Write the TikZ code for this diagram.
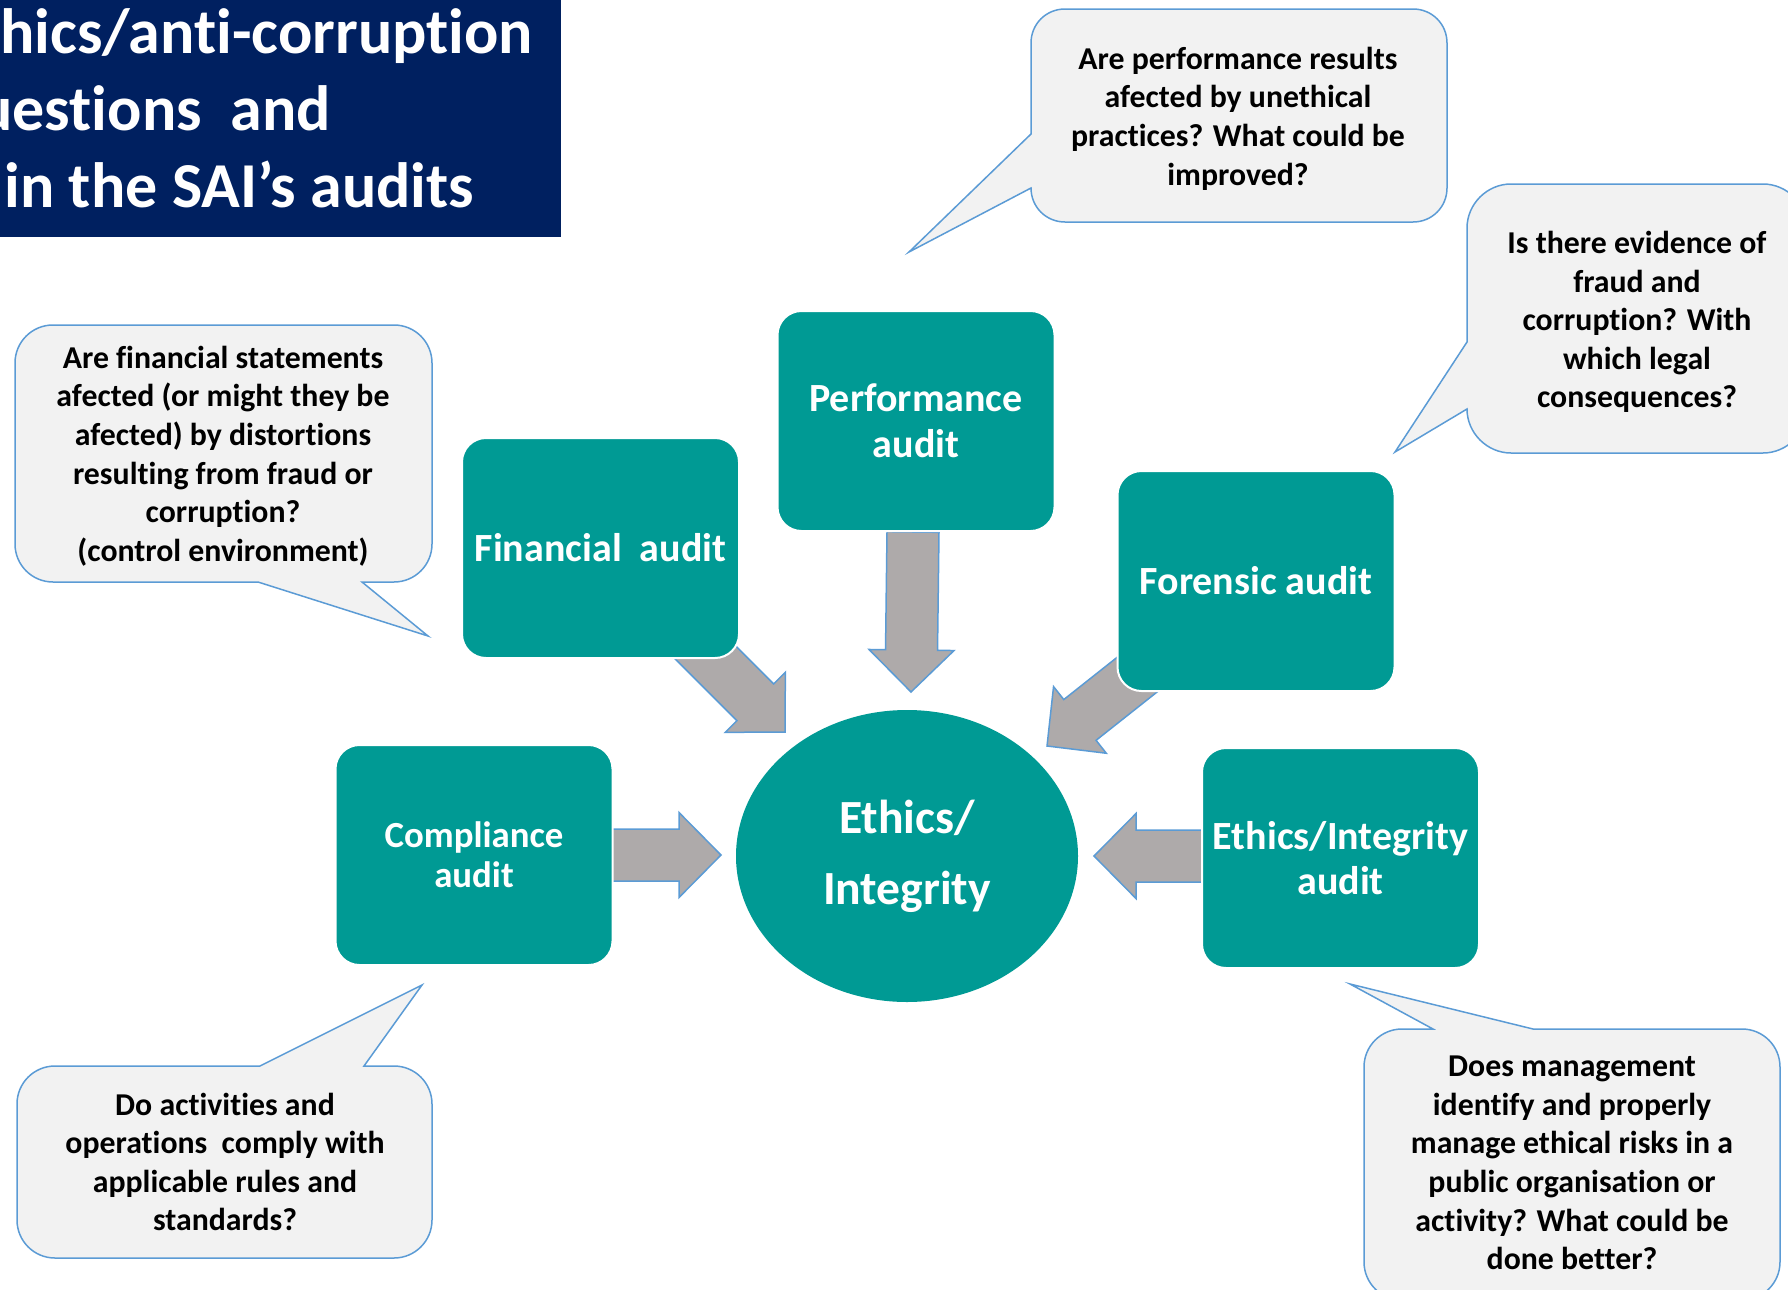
\documentclass[tikz,border=0pt]{standalone}
\usepackage{fontspec}
\setmainfont{Carlito}[Ligatures=NoCommon]
\usetikzlibrary{calc,shapes.geometric}

\definecolor{auditteal}{RGB}{0,154,148}
\definecolor{titlenavy}{RGB}{0,32,96}
\definecolor{bubblefill}{RGB}{242,242,242}
\definecolor{bubbleline}{RGB}{91,155,213}
\definecolor{arrowgray}{RGB}{174,170,170}

% Block arrow from a tail coordinate (#1) to a tip coordinate (#2)
\newcommand\blockarrow[2]{%
  \coordinate (#1-h) at ($(#2)!21pt!(#1)$);
  \draw[blockarrow]
    (#2)
    -- ($(#1-h)!21.25pt!90:(#2)$)
    -- ($(#1-h)!13pt!90:(#2)$)
    -- ($(#1)!13pt!90:(#2)$)
    -- ($(#1)!13pt!-90:(#2)$)
    -- ($(#1-h)!13pt!-90:(#2)$)
    -- ($(#1-h)!21.25pt!-90:(#2)$)
    -- cycle;
}

\begin{document}
\begin{tikzpicture}[x=0.5pt,y=-0.5pt,
  audit/.style={rectangle, rounded corners=12pt, fill=auditteal, draw=white,
    line width=1pt, minimum width=138.5pt, minimum height=110pt, inner sep=2pt,
    align=center, text=white, font=\fontsize{20}{22.8}\selectfont\bfseries},
  bubble/.style={fill=bubblefill, draw=bubbleline, line width=0.75pt, line join=miter},
  bubbletext/.style={align=center, inner sep=0pt, text=black,
    font=\fontsize{15.9}{19.3}\selectfont\bfseries},
  blockarrow/.style={fill=arrowgray, draw=bubbleline, line width=0.75pt, line join=miter},
  titleline/.style={anchor=base west, inner sep=0pt, text=white,
    font=\fontsize{32}{38}\selectfont\bfseries}]

\useasboundingbox (0,0) rectangle (1788,1290);
\clip (0,0) rectangle (1788,1290);

% title banner
\fill[titlenavy] (0,0) rectangle (561,237);
\node[titleline] (title1) at (0,54) {hics/anti-corruption};
\node[titleline] (title2) at (-22,130) {uestions\ \ and};
\node[titleline] (title3) at (4,207) {in the SAI’s audits};

% question bubbles
\draw[bubble] (1065,9) -- (1413,9) .. controls (1432,9) and (1447,24) .. (1447,43)
  -- (1447,188) .. controls (1447,207) and (1432,222) .. (1413,222)
  -- (1065,222) .. controls (1046,222) and (1031,207) .. (1031,188)
  -- (909,252) -- (1031,134)
  -- (1031,43) .. controls (1031,24) and (1046,9) .. (1065,9) -- cycle;
\node[bubbletext] (q-perf) at (1238,118.5)
  {Are performance results\\afected by unethical\\practices? What could be\\improved?};

\draw[bubble] (1511,184) -- (1763,184) .. controls (1787,184) and (1807,204) .. (1807,228)
  -- (1807,409) .. controls (1807,433) and (1787,453) .. (1763,453)
  -- (1511,453) .. controls (1487,453) and (1467,433) .. (1467,409)
  -- (1395,452) -- (1467,342)
  -- (1467,228) .. controls (1467,204) and (1487,184) .. (1511,184) -- cycle;
\node[bubbletext] (q-forensic) at (1637,322)
  {Is there evidence of\\fraud and\\corruption? With\\which legal\\consequences?};

\draw[bubble] (53,325) -- (394,325) .. controls (415,325) and (432,342) .. (432,363)
  -- (432,544) .. controls (432,565) and (415,582) .. (394,582)
  -- (362,582) -- (428,636) -- (258,582)
  -- (53,582) .. controls (32,582) and (15,565) .. (15,544)
  -- (15,363) .. controls (15,342) and (32,325) .. (53,325) -- cycle;
\node[bubbletext] (q-financial) at (223,456)
  {Are financial statements\\afected (or might they be\\afected) by distortions\\resulting from fraud or\\corruption?\\(control environment)};

\draw[bubble] (55,1066) -- (260,1066) -- (422,985) -- (364,1066)
  -- (394,1066) .. controls (415,1066) and (432,1083) .. (432,1104)
  -- (432,1220) .. controls (432,1241) and (415,1258) .. (394,1258)
  -- (55,1258) .. controls (34,1258) and (17,1241) .. (17,1220)
  -- (17,1104) .. controls (17,1083) and (34,1066) .. (55,1066) -- cycle;
\node[bubbletext] (q-compliance) at (225,1162)
  {Do activities and\\operations\ \ comply with\\applicable rules and\\standards?};

\draw[bubble] (1402,1029) -- (1433,1029) -- (1350,984) -- (1533,1029)
  -- (1742,1029) .. controls (1763,1029) and (1780,1046) .. (1780,1067)
  -- (1780,1262) .. controls (1780,1283) and (1763,1300) .. (1742,1300)
  -- (1402,1300) .. controls (1381,1300) and (1364,1283) .. (1364,1262)
  -- (1364,1067) .. controls (1364,1046) and (1381,1029) .. (1402,1029) -- cycle;
\node[bubbletext] (q-ethics) at (1572,1163)
  {Does management\\identify and properly\\manage ethical risks in a\\public organisation or\\activity? What could be\\done better?};

% arrow ends
\coordinate (perf-tail) at (913,532);
\coordinate (perf-tip) at (911,692);
\coordinate (fin-tail) at (680,627);
\coordinate (fin-tip) at (785,732);
\coordinate (for-tail) at (1196,628);
\coordinate (for-tip) at (1047,746);
\coordinate (comp-tail) at (605,855);
\coordinate (comp-tip) at (721,855);
\coordinate (eth-tail) at (1210,856);
\coordinate (eth-tip) at (1094,856);

\blockarrow{perf-tail}{perf-tip}
\blockarrow{fin-tail}{fin-tip}
\blockarrow{for-tail}{for-tip}
\blockarrow{comp-tail}{comp-tip}
\blockarrow{eth-tail}{eth-tip}

% audit boxes
\node[audit] (performance) at (916,421) {Performance\\audit};
\node[audit] (financial) at (600.5,548) {Financial\ \ audit};
\node[audit] (forensic) at (1256,581) {Forensic audit};
\node[audit, font=\fontsize{18.4}{20}\selectfont\bfseries] (compliance) at (474,855) {Compliance\\audit};
\node[audit] (ethicsaudit) at (1340.5,858) {Ethics/Integrity\\audit};

% central ellipse
\node[ellipse, fill=auditteal, minimum width=171pt, minimum height=146pt, inner sep=0pt,
  align=center, text=white, font=\fontsize{23.8}{35.5}\selectfont\bfseries]
  (core) at (907,856) {Ethics/\\Integrity};

\end{tikzpicture}
\end{document}
